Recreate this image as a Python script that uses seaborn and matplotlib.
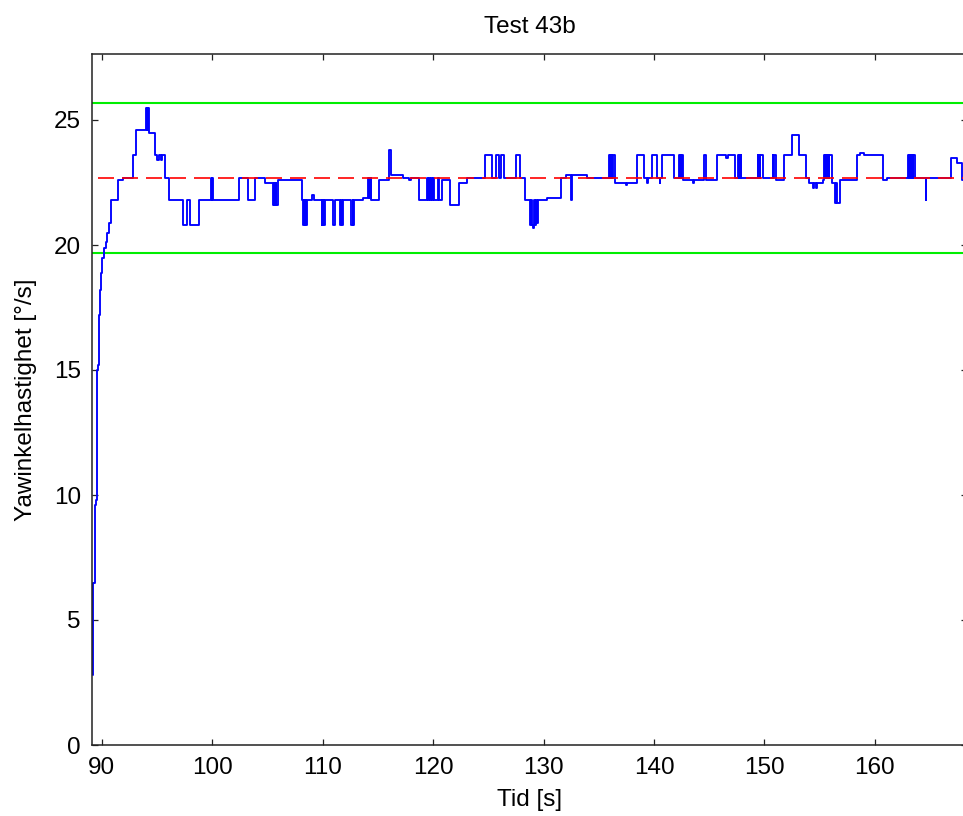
import numpy as np
import pandas as pd
import matplotlib
matplotlib.use("Agg")
import matplotlib.pyplot as plt
import seaborn as sns

# Yaw rate step response, Test 43b (step changes)
tid = [
    89.15, 89.22, 89.35, 89.48, 89.58, 89.68, 89.75, 89.85, 89.95, 90.05, 90.20, 90.35, 90.45, 90.60, 90.80,
    91.45, 91.90, 92.80, 93.10,
    94.00, 94.05, 94.08, 94.13, 94.17, 94.22, 94.25,
    94.77, 95.00, 95.15, 95.35, 95.45, 95.75, 96.10,
    97.30, 97.70, 97.95, 98.80,
    99.90, 99.95, 100.00, 100.05, 100.10,
    102.40, 103.20, 103.90, 104.80,
    105.50, 105.55, 105.60, 105.65, 105.70, 105.75, 105.80, 105.97,
    108.09, 108.24, 108.30, 108.36, 108.42, 108.48, 108.54,
    109.00, 109.20, 109.90, 109.95, 110.00, 110.05, 110.10, 110.20,
    110.90, 111.10, 111.56, 111.62, 111.70, 111.78, 111.86,
    112.60, 112.70, 112.78, 112.85,
    113.60, 114.10, 114.16, 114.22, 114.28, 114.34, 114.40,
    115.10, 116.02, 116.20, 117.30, 117.80, 118.00, 118.70,
    119.40, 119.50, 119.60, 119.70, 119.80, 119.90, 120.00, 120.10, 120.40, 120.50, 120.76,
    121.55, 122.30, 123.10, 124.72, 125.30, 125.70, 126.00, 126.10, 126.40,
    127.50, 127.90, 128.35, 128.80, 128.90, 128.95, 129.05, 129.10, 129.20, 129.30, 129.40, 129.50, 129.70,
    130.30, 131.55, 132.00, 132.45, 132.55, 133.96,
    135.92, 135.98, 136.04, 136.10, 136.16, 136.22, 136.28, 136.34, 136.47,
    137.50, 137.60, 138.50, 139.10, 139.40, 139.50, 139.80, 140.30, 140.50, 140.55, 140.75, 141.80,
    142.30, 142.35, 142.40, 142.45, 142.50, 142.60,
    143.50, 143.60, 144.55, 144.70, 145.70, 146.50, 146.70, 147.30,
    147.60, 147.66, 147.72, 147.78, 147.84, 147.90, 148.00,
    149.40, 149.46, 149.52, 149.58, 149.64, 149.70, 149.85,
    150.75, 150.81, 150.87, 150.93, 151.05,
    151.80, 152.50, 153.10, 153.75, 154.05, 154.40, 154.45, 154.70, 154.75, 155.30,
    155.40, 155.46, 155.52, 155.58, 155.64, 155.70, 155.76, 155.82, 155.88, 156.10,
    156.40, 156.50, 156.60, 156.70, 156.84,
    158.40, 158.70, 159.00, 160.77, 161.10,
    163.00, 163.06, 163.12, 163.18, 163.24, 163.30, 163.36, 163.42, 163.50, 163.64,
    164.62, 164.68, 166.87, 167.40, 167.90, 168.10,
]
yaw = [
    2.8, 6.5, 9.6, 9.8, 15.0, 15.2, 17.2, 18.2, 18.9, 19.5, 19.9, 20.1, 20.5, 20.9, 21.8,
    22.6, 22.7, 23.6, 24.6,
    25.5, 24.6, 25.5, 24.6, 25.5, 24.6, 24.5,
    23.6, 23.4, 23.6, 23.4, 23.6, 22.7, 21.8,
    20.8, 21.8, 20.8, 21.8,
    22.7, 21.8, 22.7, 21.8, 21.8,
    22.7, 21.8, 22.7, 22.5,
    21.6, 22.5, 21.6, 22.5, 21.6, 22.5, 21.6, 22.6,
    21.8, 20.8, 21.8, 20.8, 21.8, 20.8, 21.8,
    22.0, 21.8, 20.8, 21.8, 20.8, 21.8, 20.8, 21.8,
    20.8, 21.8, 20.8, 21.8, 20.8, 20.8, 21.8,
    20.8, 21.8, 20.8, 21.8,
    21.9, 22.7, 21.9, 22.7, 21.9, 22.7, 21.8,
    22.6, 23.8, 22.8, 22.7, 22.6, 22.7, 21.8,
    22.7, 21.8, 22.7, 21.8, 22.7, 21.8, 22.7, 21.8, 22.7, 21.8, 22.6,
    21.6, 22.5, 22.7, 23.6, 22.7, 23.6, 22.7, 23.6, 22.7,
    23.6, 22.7, 21.8, 20.8, 21.8, 20.8, 20.7, 21.8, 20.8, 21.8, 20.9, 21.8, 21.8,
    21.9, 22.7, 22.8, 21.8, 22.8, 22.7,
    23.6, 22.7, 23.6, 22.7, 23.6, 22.7, 23.6, 23.6, 22.5,
    22.4, 22.5, 23.6, 22.7, 22.5, 22.7, 23.6, 22.7, 22.5, 22.7, 23.6, 22.7,
    23.6, 22.7, 23.6, 22.7, 23.6, 22.6,
    22.5, 22.6, 23.6, 22.6, 23.6, 23.5, 23.6, 22.7,
    23.6, 22.7, 23.6, 22.7, 23.6, 22.7, 22.7,
    23.6, 22.7, 23.6, 22.7, 23.6, 23.6, 22.7,
    23.6, 22.7, 23.6, 23.6, 22.6,
    23.6, 24.4, 23.6, 22.7, 22.5, 22.3, 22.5, 22.3, 22.5, 22.6,
    23.6, 22.7, 23.6, 22.7, 23.6, 22.7, 23.6, 22.7, 23.6, 22.5,
    21.7, 22.5, 21.7, 21.7, 22.6,
    23.6, 23.7, 23.6, 22.6, 22.7,
    23.6, 22.7, 23.6, 22.7, 23.6, 22.7, 23.6, 22.7, 23.6, 22.7,
    21.8, 22.7, 23.5, 23.3, 22.6, 22.6,
]
referens = 22.7
tolerans = 3.0
x_ticks = [90, 100, 110, 120, 130, 140, 150, 160]
y_ticks = [0, 5, 10, 15, 20, 25]

assert len(tid) == len(yaw)
df = pd.DataFrame({"Tid": tid, "Yaw": yaw})

sns.set_style("ticks")
plt.rcParams["font.family"] = ["Liberation Sans", "DejaVu Sans"]
plt.rcParams["xtick.direction"] = "in"
plt.rcParams["ytick.direction"] = "in"
plt.rcParams["text.color"] = "black"
plt.rcParams["axes.labelcolor"] = "black"
plt.rcParams["xtick.labelcolor"] = "black"
plt.rcParams["ytick.labelcolor"] = "black"

fig = plt.figure(figsize=(9.63, 8.16), dpi=100)
ax = fig.add_axes([92 / 963, 1 - 745 / 816, 875 / 963, 691 / 816])

ax.axhline(referens + tolerans, color="#00ee00", lw=1.5, zorder=1)
ax.axhline(referens - tolerans, color="#00ee00", lw=1.5, zorder=1)
sns.lineplot(data=df, x="Tid", y="Yaw", ax=ax, color="#0000ff", lw=1.35,
             drawstyle="steps-post", estimator=None, sort=False, zorder=2)
ax.plot([89.6, 168.1], [referens, referens], color="#ff0000", lw=1.2,
        dashes=(9.6, 4.8), zorder=3)

ax.set_xlim(89.1, 168.35)
ax.set_ylim(0, 27.64)
ax.set_xticks(x_ticks)
ax.set_yticks(y_ticks)
ax.tick_params(axis="both", which="major", labelsize=17.5, length=4.5, width=0.9,
               color="#222222", top=True, right=True)
ax.tick_params(axis="x", pad=9)
ax.tick_params(axis="y", pad=8)
for sp in ax.spines.values():
    sp.set_visible(True)
    sp.set_color("#222222")
    sp.set_linewidth(1.1)
ax.spines["right"].set_visible(False)

ax.set_title("Test 43b", fontsize=17.5, pad=15)
ax.set_xlabel("Tid [s]", fontsize=17.5, labelpad=7)
ax.set_ylabel("Yawinkelhastighet [°/s]", fontsize=17.5, labelpad=12)

fig.savefig("out.png", dpi=100)
